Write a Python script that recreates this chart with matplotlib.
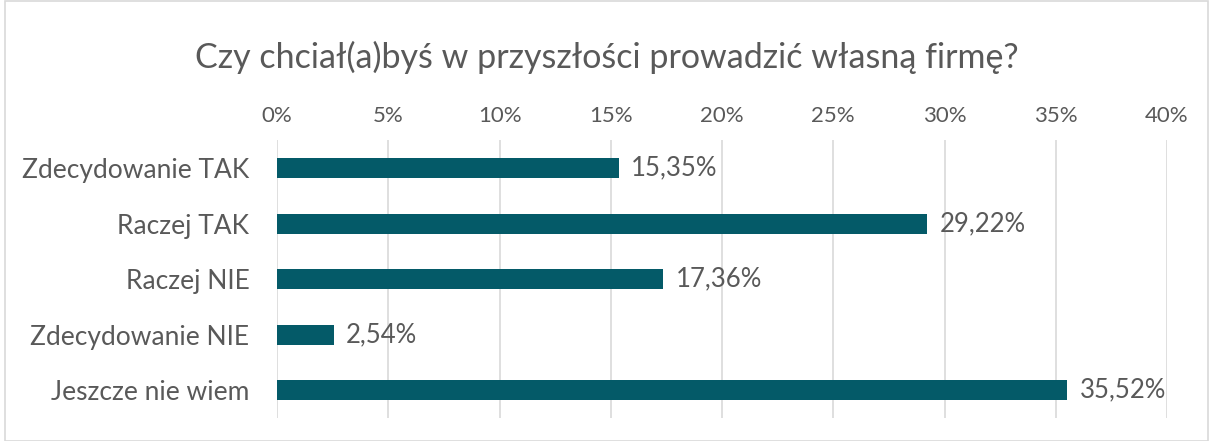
import matplotlib.pyplot as plt
from matplotlib.patches import Rectangle

categories = ["Zdecydowanie TAK", "Raczej TAK", "Raczej NIE", "Zdecydowanie NIE", "Jeszcze nie wiem"]
values = [15.35, 29.22, 17.36, 2.54, 35.52]
ticks = [0, 5, 10, 15, 20, 25, 30, 35, 40]

plt.rcParams['font.family'] = ['Lato', 'DejaVu Sans']
grey = "#595959"
bar_color = "#045A68"

fig = plt.figure(figsize=(12.13, 4.41), dpi=100)
ax = fig.add_axes([0.2284, 0.052, 0.7337, 0.630])

y = list(range(len(categories)))
ax.barh(y, values, height=0.36, color=bar_color, zorder=3)
for yi, v in zip(y, values):
    ax.text(v + 0.55, yi, f"{v:.2f}%".replace(".", ","), va="center", ha="left",
            fontsize=18.5, color=grey)

ax.set_xlim(0, 40)
ax.set_ylim(len(categories) - 0.5, -0.5)
ax.set_xticks(ticks)
ax.set_xticklabels([f"{t}%" for t in ticks])
ax.set_yticks(y)
ax.set_yticklabels(categories)
ax.xaxis.tick_top()
ax.tick_params(axis="x", length=0, pad=10, labelsize=16, labelcolor=grey)
ax.tick_params(axis="y", length=0, pad=20, labelsize=19, labelcolor=grey)
ax.grid(axis="x", color="#D9D9D9", linewidth=1.2, zorder=0)
for s in ax.spines.values():
    s.set_visible(False)

fig.text(0.5, 0.87, "Czy chciał(a)byś w przyszłości prowadzić własną firmę?",
         ha="center", va="center", fontsize=24.5, color=grey)

fig.patches.append(Rectangle((0.004, 0.0), 0.992, 0.998, transform=fig.transFigure,
                             fill=False, edgecolor="#D9D9D9", linewidth=1.2))

fig.savefig("out.png", dpi=100)
